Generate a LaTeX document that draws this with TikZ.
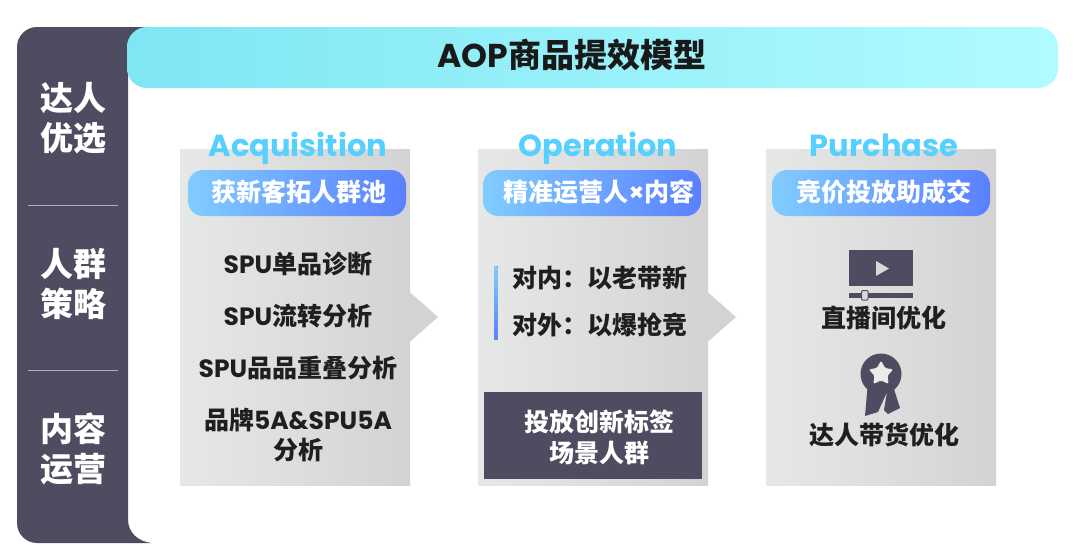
\documentclass[tikz,border=0pt]{standalone}
\usepackage{fontspec}
\setmainfont{Noto Sans CJK SC}
\newfontfamily\latf{Poppins}
\usepackage{xcolor}
\usetikzlibrary{shapes.geometric, positioning, calc}
\definecolor{darkbg}{HTML}{4D4C60}
\definecolor{headblue}{HTML}{55D0FF}
\definecolor{panelleft}{HTML}{E6E8E8}
\definecolor{panelright}{HTML}{D3D3D3}
\definecolor{pillleft}{HTML}{80CCFF}
\definecolor{pillright}{HTML}{5B80FF}
\definecolor{bannerleft}{HTML}{7FE6F3}
\definecolor{bannerright}{HTML}{B0FBFF}
\newcommand{\lat}[1]{{\latf\bfseries #1}}
\newcommand{\fs}[2]{\fontsize{#1}{#2}\selectfont\bfseries}

\begin{document}
\begin{tikzpicture}[
    x=1pt, y=-1pt,
    sidetext/.style={text=white, align=center, font=\fs{33}{40}},
    sepline/.style={draw=white!55!darkbg, line width=0.8pt},
    panelbox/.style={left color=panelleft, right color=panelright, draw=none},
    pillbox/.style={rounded corners=15pt, left color=pillleft, right color=pillright, minimum width=218pt, minimum height=46pt, inner sep=0pt},
    pilltext/.style={text=white, font=\fs{25}{30}},
    headtext/.style={text=headblue, anchor=base, font=\fontsize{30.5}{36}\selectfont},
    itemtext/.style={text=black!88, align=center, font=\fs{25}{30.5}}
]
    \useasboundingbox (0,0) rectangle (1080,558);
    \fill[white] (0,0) rectangle (1080,558);

    \fill[darkbg] (17,47) .. controls (17,36) and (26,27) .. (37,27) -- (150,27) -- (128,60) -- (128,519) .. controls (128,533) and (138,541) .. (151,543) -- (37,543) .. controls (26,543) and (17,534) .. (17,523) -- cycle;
    \node[rounded corners=20pt, left color=bannerleft, right color=bannerright, minimum width=931pt, minimum height=61pt, inner sep=0pt] (banner) at (592.5,57.5) {};
    \node[text=black!90, font=\fs{33}{38}] (title) at (572,55) {\lat{AOP}商品提效模型};

    \node[sidetext] (side1) at (73,118) {达人\\优选};
    \node[sidetext] (side2) at (73,284) {人群\\策略};
    \node[sidetext] (side3) at (73,449) {内容\\运营};
    \draw[sepline] (28,205) -- (118,205);
    \draw[sepline] (28,370) -- (118,370);

    \fill[panelright] (405,288) -- (438,317) -- (405,346) -- cycle;
    \fill[panelright] (703,288) -- (736,317) -- (703,346) -- cycle;
    \fill[panelbox] (180,149) rectangle (410,485);
    \fill[panelbox] (478,149) rectangle (708,485);
    \fill[panelbox] (766,149) rectangle (996,485);

    \node[headtext] (head1) at (298,156) {\lat{Acquisition}};
    \node[headtext] (head2) at (598,156) {\lat{Operation}};
    \node[headtext] (head3) at (884,156) {\lat{Purchase}};

    \node[pillbox] (pill1) at (297,193) {};
    \node[pillbox] (pill2) at (592,193) {};
    \node[pillbox] (pill3) at (881,193) {};
    \node[pilltext] (ptext1) at (298.5,192) {获新客拓人群池};
    \node[pilltext] (ptext2) at (599,192) {精准运营人\lat{×}内容};
    \node[pilltext] (ptext3) at (883.5,192) {竞价投放助成交};

    \node[itemtext] (item1) at (298,264) {\lat{SPU}单品诊断};
    \node[itemtext] (item2) at (298,316) {\lat{SPU}流转分析};
    \node[itemtext] (item3) at (298,368) {\lat{SPU}品品重叠分析};
    \node[itemtext] (item4) at (298,435) {品牌\lat{5A\&SPU5A}\\分析};

    \fill[top color=pillleft, bottom color=pillright] (494,266) rectangle (497.5,339);
    \node[itemtext, anchor=west, inner sep=0pt] (inner) at (512,278) {对内：以老带新};
    \node[itemtext, anchor=west, inner sep=0pt] (outer) at (512,325) {对外：以爆抢竞};

    \node[fill=darkbg, minimum width=218pt, minimum height=87pt, inner sep=0pt] (darkbox) at (592.75,435) {};
    \node[itemtext, text=white] (boxtext) at (599,437.5) {投放创新标签\\场景人群};

    \fill[darkbg] (849,250) rectangle (913,286);
    \fill[black!15] (876,261) -- (889,268.5) -- (876,276) -- cycle;
    \fill[darkbg] (849,292.5) rectangle (913,297.5);
    \draw[darkbg, fill=black!15, line width=1pt, rounded corners=1pt] (861.5,290.5) rectangle (868,300);
    \node[itemtext] (live) at (884,318) {直播间优化};

    \fill[darkbg] (868,382) -- (865,416) -- (878,412) -- (887,392) -- cycle;
    \fill[darkbg] (887,392) -- (884,410) -- (888,414) -- (900,408) -- (893,386) -- cycle;
    \fill[darkbg] (881,374) circle[radius=20.5];
    \node[star, star points=5, star point ratio=1.9, fill=black!8, inner sep=0pt, minimum size=26pt, rounded corners=1.5pt] (medalstar) at (881,373.5) {};
    \node[itemtext] (talent) at (884,435) {达人带货优化};
\end{tikzpicture}
\end{document}
